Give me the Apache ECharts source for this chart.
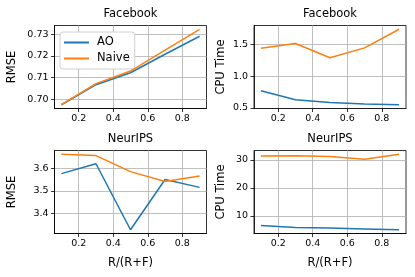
<!DOCTYPE html>
<html>
<head>
<meta charset="utf-8">
<script src="https://cdn.jsdelivr.net/npm/echarts@6/dist/echarts.min.js"></script>
<style>
html,body{margin:0;padding:0;background:#fff;}
#c{width:415px;height:277px;}
</style>
</head>
<body>
<div id="c"></div>
<script>
const xs = [0.1, 0.3, 0.5, 0.7, 0.9];
const xTicks = [0.2, 0.4, 0.6, 0.8];

const fbRmseAO = [0.6975, 0.7067, 0.7122, 0.7207, 0.7290];
const fbRmseNaive = [0.6975, 0.7072, 0.7130, 0.7226, 0.7322];
const fbRmseTicks = [0.70, 0.71, 0.72, 0.73];

const fbCpuAO = [0.768, 0.626, 0.585, 0.560, 0.548];
const fbCpuNaive = [1.440, 1.515, 1.290, 1.447, 1.741];
const fbCpuTicks = [0.5, 1.0, 1.5];

const nrRmseAO = [3.576, 3.620, 3.327, 3.550, 3.515];
const nrRmseNaive = [3.662, 3.656, 3.585, 3.541, 3.566];
const nrRmseTicks = [3.4, 3.5, 3.6];

const nrCpuAO = [6.6, 5.9, 5.7, 5.4, 5.1];
const nrCpuNaive = [31.4, 31.5, 31.2, 30.2, 32.0];
const nrCpuTicks = [10, 20, 30];

const titles = ['Facebook', 'Facebook', 'NeurIPS', 'NeurIPS'];
const yNames = ['RMSE', 'CPU Time', 'RMSE', 'CPU Time'];
const xName = 'R/(R+F)';
const seriesNames = ['AO', 'Naive'];
const colors = ['#1f77b4', '#ff7f0e'];

const FONT = 'DejaVu Sans';
const panels = [
  {ao: fbRmseAO, nv: fbRmseNaive, ticks: fbRmseTicks, dec: 2},
  {ao: fbCpuAO, nv: fbCpuNaive, ticks: fbCpuTicks, dec: 1},
  {ao: nrRmseAO, nv: nrRmseNaive, ticks: nrRmseTicks, dec: 1},
  {ao: nrCpuAO, nv: nrCpuNaive, ticks: nrCpuTicks, dec: 0}
];
const grids = [
  {left: 54.5, top: 25.5, width: 152, height: 83},
  {left: 254, top: 25.5, width: 152, height: 83},
  {left: 54.5, top: 150.5, width: 152, height: 83},
  {left: 254, top: 150.5, width: 152, height: 83}
];
const yNameGap = [36, 27, 36, 27];

function pad(arr) {
  const mn = Math.min(...arr), mx = Math.max(...arr);
  const r = mx - mn;
  return [mn - 0.05 * r, mx + 0.05 * r];
}
const xr = pad(xs);

const option = {
  animation: false,
  backgroundColor: '#fff',
  textStyle: {fontFamily: FONT},
  title: titles.map((t, i) => ({
    text: t,
    left: grids[i].left + grids[i].width / 2,
    top: grids[i].top - 17.5,
    textAlign: 'center',
    padding: 0,
    textStyle: {fontFamily: FONT, fontSize: 11.5, fontWeight: 'normal', color: '#000'}
  })),
  legend: {
    data: seriesNames,
    orient: 'vertical',
    left: 60,
    top: 32,
    padding: [4, 5, 4, 4],
    itemWidth: 25,
    itemHeight: 2,
    itemGap: 3,
    icon: 'rect',
    backgroundColor: '#fff',
    borderColor: '#d0d0d0',
    borderWidth: 1,
    borderRadius: 3,
    textStyle: {fontFamily: FONT, fontSize: 11.5, color: '#000', padding: [0, 0, 0, 3], lineHeight: 13}
  },
  grid: grids.map(g => Object.assign({show: true, borderColor: '#000', borderWidth: 0.8, containLabel: false}, g)),
  xAxis: grids.map((g, i) => ({
    type: 'value',
    gridIndex: i,
    min: xr[0],
    max: xr[1],
    name: i >= 2 ? xName : '',
    nameLocation: 'middle',
    nameGap: 24,
    nameTextStyle: {fontFamily: FONT, fontSize: 11.5, color: '#000'},
    axisLine: {show: true, onZero: false, lineStyle: {color: '#000', width: 0.8}},
    axisTick: {show: true, customValues: xTicks, length: 3.5, lineStyle: {color: '#000', width: 0.8}},
    axisLabel: {customValues: xTicks, margin: 5, fontFamily: FONT, fontSize: 9.5, color: '#000',
      formatter: v => v.toFixed(1)},
    splitLine: {show: true, lineStyle: {color: '#b0b0b0', width: 0.8}}
  })),
  yAxis: panels.map((p, i) => {
    const r = pad(p.ao.concat(p.nv));
    return {
      type: 'value',
      gridIndex: i,
      min: r[0],
      max: r[1],
      name: yNames[i],
      nameLocation: 'middle',
      nameGap: yNameGap[i],
      nameTextStyle: {fontFamily: FONT, fontSize: 11.5, color: '#000'},
      axisLine: {show: true, onZero: false, lineStyle: {color: '#000', width: 0.8}},
      axisTick: {show: true, customValues: p.ticks, length: 3.5, lineStyle: {color: '#000', width: 0.8}},
      axisLabel: {customValues: p.ticks, margin: 6, fontFamily: FONT, fontSize: 9.5, color: '#000',
        formatter: v => v.toFixed(p.dec)},
      splitLine: {show: true, lineStyle: {color: '#b0b0b0', width: 0.8}}
    };
  }),
  series: []
};

panels.forEach((p, i) => {
  [p.ao, p.nv].forEach((vals, k) => {
    option.series.push({
      name: seriesNames[k],
      type: 'line',
      xAxisIndex: i,
      yAxisIndex: i,
      data: xs.map((x, j) => [x, vals[j]]),
      showSymbol: false,
      symbol: 'none',
      lineStyle: {color: colors[k], width: 1.5},
      itemStyle: {color: colors[k]},
      z: 3 + k
    });
  });
});

const chart = echarts.init(document.getElementById('c'), null, {renderer: 'canvas'});
chart.setOption(option);
</script>
</body>
</html>
